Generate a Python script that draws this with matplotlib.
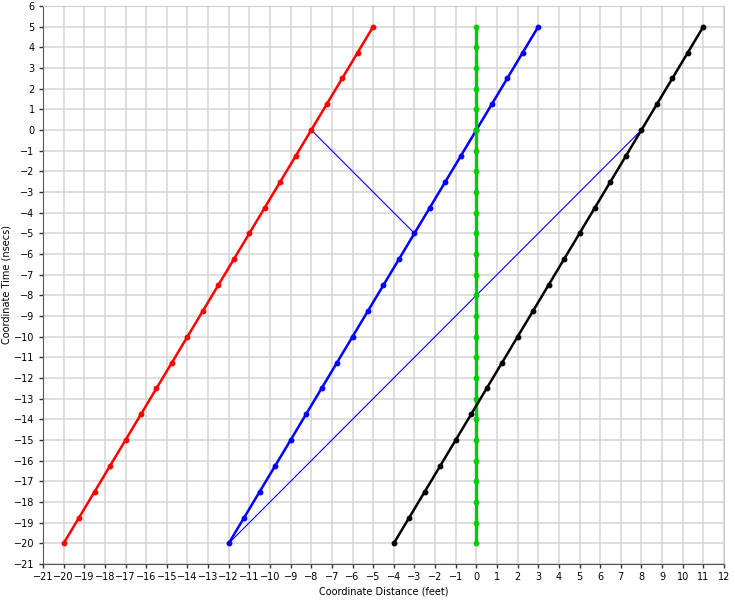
import numpy as np
import matplotlib
matplotlib.use("Agg")
import matplotlib.pyplot as plt

# Worldline data (coordinate distance in feet, coordinate time in nsecs)
red_x = [-20, -19.25, -18.5, -17.75, -17, -16.25, -15.5, -14.75, -14, -13.25, -12.5,
         -11.75, -11, -10.25, -9.5, -8.75, -8, -7.25, -6.5, -5.75, -5]
red_t = [-20, -18.75, -17.5, -16.25, -15, -13.75, -12.5, -11.25, -10, -8.75, -7.5,
         -6.25, -5, -3.75, -2.5, -1.25, 0, 1.25, 2.5, 3.75, 5]
blue_x = [-12, -11.25, -10.5, -9.75, -9, -8.25, -7.5, -6.75, -6, -5.25, -4.5,
          -3.75, -3, -2.25, -1.5, -0.75, 0, 0.75, 1.5, 2.25, 3]
blue_t = red_t
black_x = [-4, -3.25, -2.5, -1.75, -1, -0.25, 0.5, 1.25, 2, 2.75, 3.5,
           4.25, 5, 5.75, 6.5, 7.25, 8, 8.75, 9.5, 10.25, 11]
black_t = red_t
green_x = [0] * 26
green_t = list(range(-20, 6))
signal1_x = [-8, -3]
signal1_t = [0, -5]
signal2_x = [-12, 8]
signal2_t = [-20, 0]

x_ticks = list(range(-21, 13))
y_ticks = list(range(-21, 7))

fig = plt.figure(figsize=(7.35, 6.0), dpi=100)
ax = fig.add_axes([0.0585, 0.06, 0.9265, 0.93])

ax.plot(signal1_x, signal1_t, color="#0000ff", lw=0.8, zorder=3)
ax.plot(signal2_x, signal2_t, color="#0000ff", lw=0.8, zorder=3)
ax.plot(red_x, red_t, color="#ff0000", lw=1.8, marker="o", ms=3.2, zorder=4)
ax.plot(blue_x, blue_t, color="#0000ff", lw=1.8, marker="o", ms=3.2, zorder=4)
ax.plot(green_x, green_t, color="#00cc00", lw=2.4, marker="o", ms=3.2, zorder=4)
ax.plot(black_x, black_t, color="#000000", lw=1.8, marker="o", ms=3.2, zorder=5)

ax.set_xlim(-21, 12)
ax.set_ylim(-21, 6)
ax.set_xticks(x_ticks)
ax.set_yticks(y_ticks)
ax.tick_params(labelsize=7, length=3, width=1, color="#333333", pad=3)
ax.grid(True, color="#d4d4d4", lw=1.1)
ax.set_axisbelow(True)
for s in ["top", "right"]:
    ax.spines[s].set_color("#cccccc")
for s in ["left", "bottom"]:
    ax.spines[s].set_color("#555555")
ax.set_xlabel("Coordinate Distance (feet)", fontsize=7, labelpad=3)
ax.set_ylabel("Coordinate Time (nsecs)", fontsize=7, labelpad=2)

fig.savefig("out.png", dpi=100)
